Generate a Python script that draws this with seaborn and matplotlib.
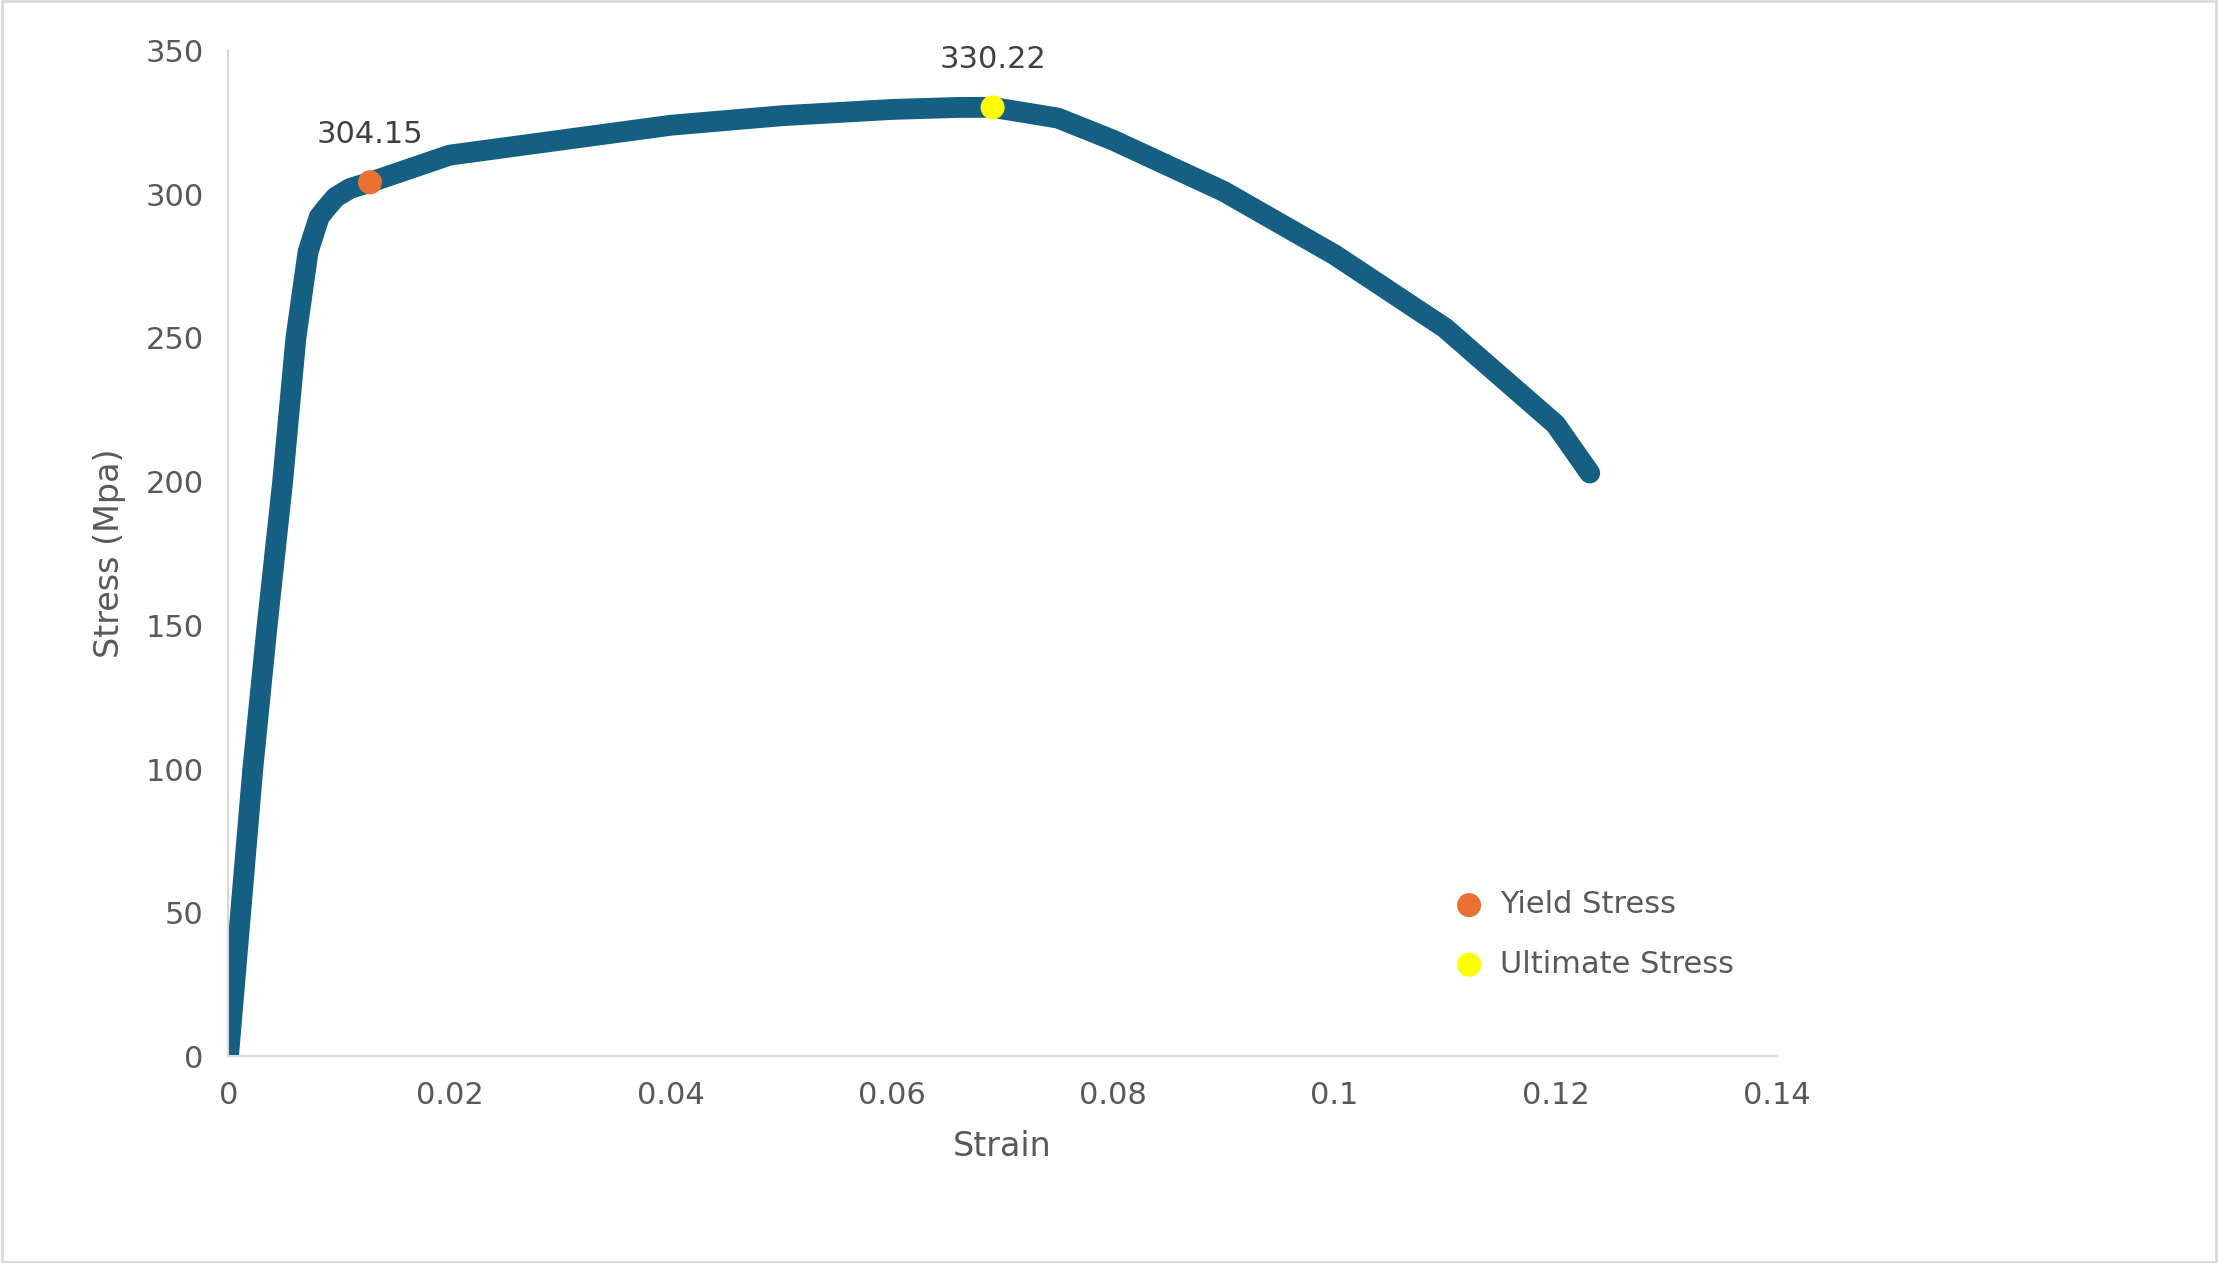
import matplotlib
matplotlib.use("Agg")
import matplotlib.pyplot as plt
import seaborn as sns
import pandas as pd

strain = [0.0, 0.0011, 0.0022, 0.0035, 0.0049, 0.0061, 0.0072, 0.0082, 0.0088, 0.0097, 0.0110, 0.0128,
          0.020, 0.030, 0.040, 0.050, 0.060, 0.066, 0.0691, 0.075, 0.080, 0.090, 0.100, 0.110, 0.120, 0.1231]
stress = [0.0, 50, 100, 150, 200, 250, 280, 292, 295, 299, 302, 304.15,
          313.6, 318.8, 324.0, 327.3, 329.5, 330.2, 330.22, 326.5, 318.8, 301, 279, 253.5, 220, 203]
yield_strain, yield_stress = [0.0128], [304.15]
ult_strain, ult_stress = [0.0691], [330.22]

sns.set_theme(style="white")
plt.rcParams['font.family'] = ['DejaVu Sans']
grey = "#595959"

fig = plt.figure(figsize=(22.18, 12.63), dpi=100)
ax = fig.add_axes([0.103, 0.1635, 0.698, 0.7965])
df = pd.DataFrame({"Strain": strain, "Stress": stress})
sns.lineplot(data=df, x="Strain", y="Stress", sort=False, ax=ax, color="#155f82",
             linewidth=15, solid_capstyle="round", solid_joinstyle="round")
sns.scatterplot(x=yield_strain, y=yield_stress, ax=ax, color="#e97132", s=300, edgecolor="none",
                label="Yield Stress", zorder=5)
sns.scatterplot(x=ult_strain, y=ult_stress, ax=ax, color="#ffff00", s=300, edgecolor="none",
                label="Ultimate Stress", zorder=5)
ax.annotate(f"{yield_stress[0]:.2f}", (yield_strain[0], yield_stress[0]), xytext=(0, 28),
            textcoords="offset points", ha="center", fontsize=22, color="#404040")
ax.annotate(f"{ult_stress[0]:.2f}", (ult_strain[0], ult_stress[0]), xytext=(0, 28),
            textcoords="offset points", ha="center", fontsize=22, color="#404040")

ax.set_xlim(0, 0.14)
ax.set_ylim(0, 350)
ax.set_xticks([0, 0.02, 0.04, 0.06, 0.08, 0.1, 0.12, 0.14])
ax.set_xticklabels(["0", "0.02", "0.04", "0.06", "0.08", "0.1", "0.12", "0.14"])
ax.set_yticks(range(0, 351, 50))
ax.tick_params(labelsize=22, colors=grey, length=0, pad=18)
ax.set_xlabel("Strain", fontsize=24, color=grey, labelpad=14)
ax.set_ylabel("Stress (Mpa)", fontsize=24, color=grey, labelpad=14)
for s in ["top", "right"]:
    ax.spines[s].set_visible(False)
for s in ["left", "bottom"]:
    ax.spines[s].set_color("#d9d9d9")
    ax.spines[s].set_linewidth(1.5)
ax.patch.set_alpha(0)
leg = ax.legend(loc="lower right", bbox_to_anchor=(0.99, 0.05), frameon=False, fontsize=22,
                handletextpad=0.0, labelspacing=1.0, markerscale=1.0)
for t in leg.get_texts():
    t.set_color(grey)
fig.patches.append(plt.Rectangle((0.001, 0.001), 0.998, 0.998, transform=fig.transFigure,
                                 fill=False, edgecolor="#d9d9d9", linewidth=2))
fig.savefig("out.png", dpi=100)
